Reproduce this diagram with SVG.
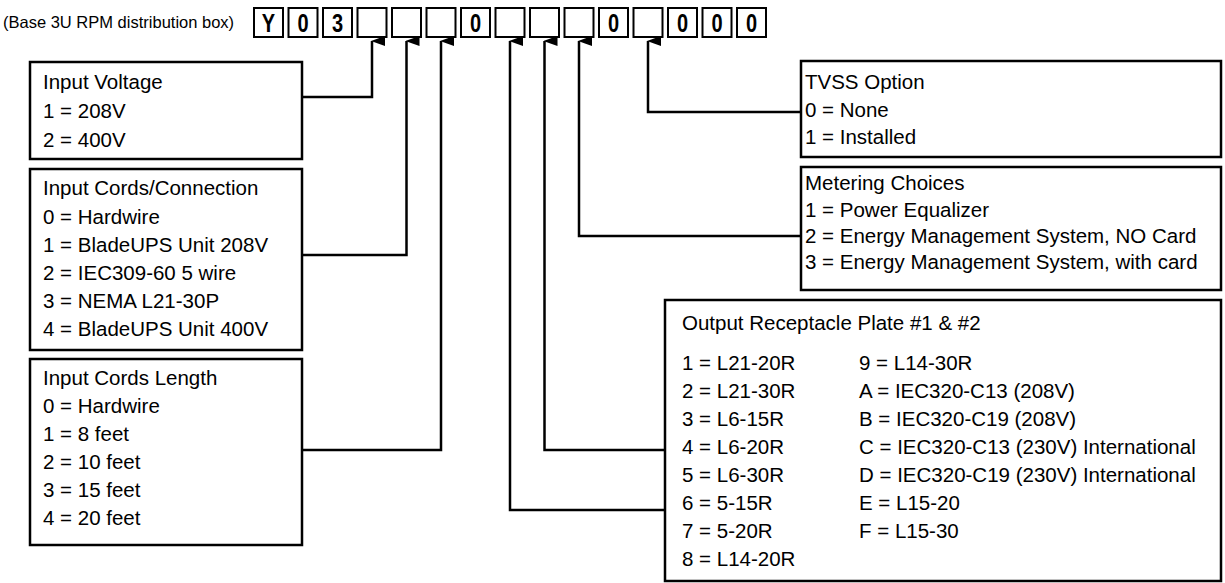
<svg xmlns="http://www.w3.org/2000/svg" width="1225" height="583" viewBox="0 0 1225 583">
<defs>
<style>
.t{font-family:"Liberation Sans",Arial,sans-serif;font-size:20.5px;fill:#000}
.h{font-family:"Liberation Sans",Arial,sans-serif;font-size:16.5px;fill:#000}
.d{font-family:"Liberation Sans",Arial,sans-serif;font-size:25px;font-weight:bold;fill:#000}
.box{fill:#fff;stroke:#000;stroke-width:2.5}
.cell{fill:#fff;stroke:#000;stroke-width:2}
.ln{fill:none;stroke:#000;stroke-width:2.5}
</style>
<marker id="ah" viewBox="0 0 10 14" refX="5" refY="1" markerWidth="10" markerHeight="14" markerUnits="userSpaceOnUse" orient="auto-start-reverse">
<path d="M5,0 L10,14 L0,14 Z" fill="#000"/>
</marker>
</defs>
<rect width="1225" height="583" fill="#fff"/>

<g id="code">
<text class="h" x="3" y="28">(Base 3U RPM distribution box)</text>
<rect class="cell" x="254" y="8" width="29" height="29"/>
<rect class="cell" x="288.5" y="8" width="29" height="29"/>
<rect class="cell" x="323" y="8" width="29" height="29"/>
<rect class="cell" x="357.5" y="8" width="29" height="29"/>
<rect class="cell" x="392" y="8" width="29" height="29"/>
<rect class="cell" x="426.5" y="8" width="29" height="29"/>
<rect class="cell" x="461" y="8" width="29" height="29"/>
<rect class="cell" x="495.5" y="8" width="29" height="29"/>
<rect class="cell" x="530" y="8" width="29" height="29"/>
<rect class="cell" x="564.5" y="8" width="29" height="29"/>
<rect class="cell" x="599" y="8" width="29" height="29"/>
<rect class="cell" x="633.5" y="8" width="29" height="29"/>
<rect class="cell" x="668" y="8" width="29" height="29"/>
<rect class="cell" x="702.5" y="8" width="29" height="29"/>
<rect class="cell" x="737" y="8" width="29" height="29"/>
<g text-anchor="middle">
<text class="d" transform="translate(268.5,31.5) scale(0.8,1)">Y</text>
<text class="d" transform="translate(303,31.5) scale(0.8,1)">0</text>
<text class="d" transform="translate(337.5,31.5) scale(0.8,1)">3</text>
<text class="d" transform="translate(475.5,31.5) scale(0.8,1)">0</text>
<text class="d" transform="translate(613.5,31.5) scale(0.8,1)">0</text>
<text class="d" transform="translate(682.5,31.5) scale(0.8,1)">0</text>
<text class="d" transform="translate(717,31.5) scale(0.8,1)">0</text>
<text class="d" transform="translate(751.5,31.5) scale(0.8,1)">0</text>
</g>
</g>

<g id="connectors">
<path class="ln" d="M372,41 V97 H302" marker-start="url(#ah)"/>
<path class="ln" d="M406.5,41 V255 H302" marker-start="url(#ah)"/>
<path class="ln" d="M441,41 V450 H302" marker-start="url(#ah)"/>
<path class="ln" d="M510,41 V510 H665" marker-start="url(#ah)"/>
<path class="ln" d="M544.5,41 V450 H665" marker-start="url(#ah)"/>
<path class="ln" d="M579,41 V236 H801" marker-start="url(#ah)"/>
<path class="ln" d="M648,41 V112 H801" marker-start="url(#ah)"/>
</g>

<g id="input-voltage">
<rect class="box" x="30" y="62" width="272" height="97"/>
<text class="t" x="43" y="89">Input Voltage</text>
<text class="t" x="43" y="118">1 = 208V</text>
<text class="t" x="43" y="147">2 = 400V</text>
</g>

<g id="input-cords-connection">
<rect class="box" x="30" y="169" width="272" height="181"/>
<text class="t" x="43" y="195">Input Cords/Connection</text>
<text class="t" x="43" y="223.5">0 = Hardwire</text>
<text class="t" x="43" y="252">1 = BladeUPS Unit 208V</text>
<text class="t" x="43" y="280">2 = IEC309-60 5 wire</text>
<text class="t" x="43" y="308">3 = NEMA L21-30P</text>
<text class="t" x="43" y="336">4 = BladeUPS Unit 400V</text>
</g>

<g id="input-cords-length">
<rect class="box" x="30" y="359" width="272" height="186"/>
<text class="t" x="43" y="385">Input Cords Length</text>
<text class="t" x="43" y="413">0 = Hardwire</text>
<text class="t" x="43" y="441">1 = 8 feet</text>
<text class="t" x="43" y="469">2 = 10 feet</text>
<text class="t" x="43" y="497">3 = 15 feet</text>
<text class="t" x="43" y="525">4 = 20 feet</text>
</g>

<g id="tvss-option">
<rect class="box" x="801" y="61" width="420" height="96"/>
<text class="t" x="805" y="89">TVSS Option</text>
<text class="t" x="805" y="117">0 = None</text>
<text class="t" x="805" y="144">1 = Installed</text>
</g>

<g id="metering-choices">
<rect class="box" x="801" y="167" width="420" height="123"/>
<text class="t" x="805" y="190">Metering Choices</text>
<text class="t" x="805" y="216.5">1 = Power Equalizer</text>
<text class="t" x="805" y="243">2 = Energy Management System, NO Card</text>
<text class="t" x="805" y="269">3 = Energy Management System, with card</text>
</g>

<g id="output-receptacle">
<rect class="box" x="665" y="300" width="556" height="281"/>
<text class="t" x="682" y="330">Output Receptacle Plate #1 &amp; #2</text>
<text class="t" x="682" y="370">1 = L21-20R</text>
<text class="t" x="682" y="398">2 = L21-30R</text>
<text class="t" x="682" y="426">3 = L6-15R</text>
<text class="t" x="682" y="454">4 = L6-20R</text>
<text class="t" x="682" y="482">5 = L6-30R</text>
<text class="t" x="682" y="510">6 = 5-15R</text>
<text class="t" x="682" y="538">7 = 5-20R</text>
<text class="t" x="682" y="566">8 = L14-20R</text>
<text class="t" x="859" y="370">9 = L14-30R</text>
<text class="t" x="859" y="398">A = IEC320-C13 (208V)</text>
<text class="t" x="859" y="426">B = IEC320-C19 (208V)</text>
<text class="t" x="859" y="454">C = IEC320-C13 (230V) International</text>
<text class="t" x="859" y="482">D = IEC320-C19 (230V) International</text>
<text class="t" x="859" y="510">E = L15-20</text>
<text class="t" x="859" y="538">F = L15-30</text>
</g>
</svg>
